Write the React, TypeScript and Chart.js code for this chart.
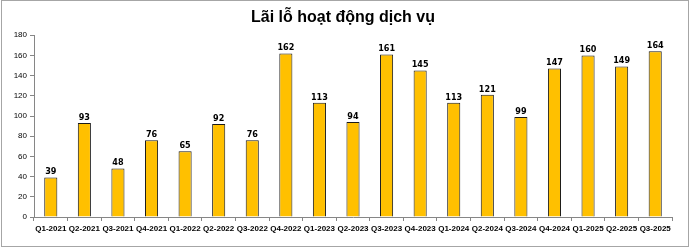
import React, { useEffect, useRef } from "react";
import { Chart, registerables } from "chart.js";

Chart.register(...registerables);

const categories = [
  "Q1-2021", "Q2-2021", "Q3-2021", "Q4-2021", "Q1-2022", "Q2-2022", "Q3-2022", "Q4-2022",
  "Q1-2023", "Q2-2023", "Q3-2023", "Q4-2023", "Q1-2024", "Q2-2024", "Q3-2024", "Q4-2024",
  "Q1-2025", "Q2-2025", "Q3-2025",
];
const values = [39, 93, 48, 76, 65, 92, 76, 162, 113, 94, 161, 145, 113, 121, 99, 147, 160, 149, 164];
const titleText = "Lãi lỗ hoạt động dịch vụ";
const yMax = 180;
const yStep = 20;

const W = 690;
const H = 249;

const labelPlugin = {
  id: "valueLabels",
  afterDatasetsDraw(chart: any) {
    const { ctx } = chart;
    const meta = chart.getDatasetMeta(0);
    ctx.save();
    ctx.font = "bold 9px 'DejaVu Sans Condensed', 'Liberation Sans', Arial, sans-serif";
    ctx.fillStyle = "#000";
    ctx.textAlign = "center";
    ctx.textBaseline = "bottom";
    meta.data.forEach((bar: any, i: number) => {
      ctx.fillText(String(values[i]), bar.x, bar.y - 1);
    });
    ctx.restore();
  },
};

export default function App() {
  const ref = useRef<HTMLCanvasElement>(null);
  useEffect(() => {
    document.body.style.margin = "0";
    const chart = new Chart(ref.current!, {
      type: "bar",
      data: {
        labels: categories,
        datasets: [
          {
            data: values,
            backgroundColor: "#FFC000",
            borderColor: "#1a1a1a",
            borderWidth: 1,
            barPercentage: 0.78,
            categoryPercentage: 0.5,
          },
        ],
      },
      options: {
        responsive: false,
        animation: false,
        layout: { padding: { left: 14, right: 18, top: 0, bottom: 0 } },
        plugins: {
          legend: { display: false },
          tooltip: { enabled: false },
          title: {
            display: true,
            text: titleText,
            color: "#000",
            font: { family: "'Liberation Sans', Arial, sans-serif", size: 16, weight: "bold" },
            padding: { top: 8, bottom: 8 },
          },
        },
        scales: {
          x: {
            offset: true,
            grid: {
              offset: true,
              drawOnChartArea: false,
              drawTicks: true,
              tickLength: 4,
              color: "#868686",
            },
            border: { color: "#868686", width: 1 },
            ticks: {
              color: "#000",
              font: { family: "'Liberation Sans', Arial, sans-serif", size: 8, weight: "bold" },
              maxRotation: 0,
              autoSkip: false,
              padding: 3,
            },
            afterFit(scale: any) {
              scale.height = 32;
            },
          },
          y: {
            min: 0,
            max: yMax,
            ticks: {
              stepSize: yStep,
              color: "#000",
              font: { family: "'Liberation Sans', Arial, sans-serif", size: 8 },
              padding: 3,
            },
            grid: {
              drawOnChartArea: false,
              drawTicks: true,
              tickLength: 4,
              color: "#868686",
            },
            border: { color: "#868686", width: 1 },
            afterFit(scale: any) {
              scale.width = 20;
            },
          },
        },
      },
      plugins: [labelPlugin],
    });
    return () => chart.destroy();
  }, []);
  return (
    <div style={{ position: "relative", width: W, height: H, background: "#fff" }}>
      <canvas ref={ref} width={W} height={H} style={{ position: "absolute", left: 0, top: 0 }} />
      <div
        style={{
          position: "absolute",
          left: 1,
          top: 0,
          width: 686,
          height: 245,
          border: "1px solid #a6a6a6",
          pointerEvents: "none",
        }}
      />
    </div>
  );
}
